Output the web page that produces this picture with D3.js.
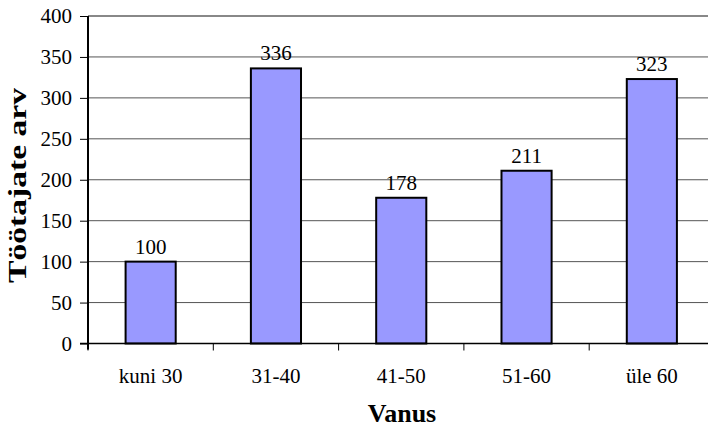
<!DOCTYPE html>
<html><head>
<meta charset="utf-8">
<script src="https://d3js.org/d3.v7.min.js"></script>
<style>
  body { margin: 0; background: white; }
  svg text { font-family: "Times New Roman", "Liberation Serif", "DejaVu Serif", serif !important; fill: black; }
</style>
</head><body>
<svg id="chart" width="708" height="429"></svg>
<script>
  // data
  const categories = ["kuni 30", "31-40", "41-50", "51-60", "üle 60"];
  const counts = [100, 336, 178, 211, 323];
  const yTicks = [0, 50, 100, 150, 200, 250, 300, 350, 400];
  const xTitle = "Vanus";
  const yTitle = "Töötajate arv";

  let svg = d3.select("svg#chart");
  const plotLeft = 88, plotTop = 16, plotBottom = 343.5;

  // band scale runs a little past the right edge, like the cropped original
  let xScale = d3.scaleBand()
    .domain(categories)
    .range([plotLeft, plotLeft + 5 * 125.3])
    .paddingInner(0.6)
    .paddingOuter(0.3);

  let yScale = d3.scaleLinear()
    .domain([0, 400])
    .range([plotBottom, plotTop]);

  //gridlines
  svg.append("g").selectAll("line")
    .data(yTicks.filter(d => d > 0 && d < 400))
    .enter().append("line")
    .attr("x1", plotLeft).attr("x2", 708)
    .attr("y1", d => yScale(d)).attr("y2", d => yScale(d))
    .style("stroke", "#555").style("stroke-width", 1);

  // top border of plot area
  svg.append("line")
    .attr("x1", plotLeft).attr("x2", 708)
    .attr("y1", yScale(400)).attr("y2", yScale(400))
    .style("stroke", "#888").style("stroke-width", 2);

  //bars
  svg.append("g").selectAll("rect")
    .data(counts)
    .enter().append("rect")
    .attr("x", (d, i) => xScale(categories[i]))
    .attr("y", d => yScale(d))
    .attr("width", xScale.bandwidth())
    .attr("height", d => plotBottom - yScale(d))
    .style("fill", "#9999ff")
    .style("stroke", "black")
    .style("stroke-width", 2);

  //value labels
  svg.append("g").selectAll("text")
    .data(counts)
    .enter().append("text")
    .attr("x", (d, i) => xScale(categories[i]) + xScale.bandwidth() / 2)
    .attr("y", d => yScale(d) - 8)
    .attr("text-anchor", "middle")
    .style("font-size", "21px")
    .text(d => d);

  //y axis
  let leftAxis = d3.axisLeft(yScale).tickValues(yTicks).tickSize(8).tickPadding(8);
  let gy = svg.append("g")
    .attr("transform", "translate(" + plotLeft + ",0)")
    .call(leftAxis);
  gy.attr("font-family", null).attr("font-size", null);
  gy.select(".domain").style("stroke", "black").style("stroke-width", 2).attr("d", "M0," + plotTop + "V" + (plotBottom + 6));
  gy.selectAll(".tick line").style("stroke", "black");
  gy.selectAll(".tick text").style("font-size", "21px");

  //x axis: ticks between categories
  svg.append("line")
    .attr("x1", plotLeft - 8).attr("x2", 708)
    .attr("y1", plotBottom).attr("y2", plotBottom)
    .style("stroke", "black").style("stroke-width", 1.5);
  const step = xScale.step();
  svg.append("g").selectAll("line")
    .data(d3.range(categories.length))
    .enter().append("line")
    .attr("x1", i => plotLeft + i * step).attr("x2", i => plotLeft + i * step)
    .attr("y1", plotBottom).attr("y2", plotBottom + 7)
    .style("stroke", "black");

  svg.append("g").selectAll("text")
    .data(categories)
    .enter().append("text")
    .attr("x", d => xScale(d) + xScale.bandwidth() / 2)
    .attr("y", 382.5)
    .attr("text-anchor", "middle")
    .style("font-size", "21px")
    .text(d => d);

  //titles
  svg.append("text")
    .attr("x", 402).attr("y", 422)
    .attr("text-anchor", "middle")
    .style("font-size", "26px").style("font-weight", "bold")
    .text(xTitle);

  svg.append("text")
    .attr("transform", "translate(26,185.5) rotate(-90)")
    .attr("text-anchor", "middle")
    .attr("textLength", 195)
    .attr("lengthAdjust", "spacingAndGlyphs")
    .style("font-size", "26px").style("font-weight", "bold")
    .text(yTitle);
</script>
</body></html>
